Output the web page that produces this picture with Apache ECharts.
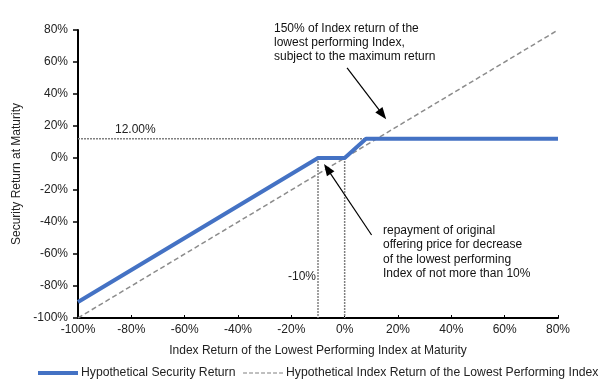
<!DOCTYPE html>
<html>
<head>
<meta charset="utf-8">
<script src="https://cdn.jsdelivr.net/npm/echarts@6/dist/echarts.min.js"></script>
<style>html,body{margin:0;padding:0;background:#fff}#c{width:614px;height:390px}</style>
</head>
<body>
<div id="c"></div>
<script>
// Data
var securityX = [-100, -10, 0, 8, 80];
var securityY = [-90, 0, 0, 12, 12];
var indexX = [-100, 80];
var indexY = [-100, 80];
var capLevel = 12;
var capX = 8;
var bufferX = [-10, 0];
var axisTicks = [-100, -80, -60, -40, -20, 0, 20, 40, 60, 80];

function pairs(xs, ys) { return xs.map(function (x, i) { return [x, ys[i]]; }); }

var font = '"Liberation Sans", Arial, sans-serif';
var chart = echarts.init(document.getElementById('c'));
var dotted = { color: '#808080', width: 1.5, type: [2, 1] };

chart.setOption({
  animation: false,
  textStyle: { fontFamily: font },
  grid: { left: 78, right: 56, top: 30, bottom: 72, containLabel: false },
  xAxis: {
    type: 'value', min: axisTicks[0], max: axisTicks[axisTicks.length - 1], interval: 20,
    name: 'Index Return of the Lowest Performing Index at Maturity',
    nameLocation: 'middle', nameGap: 27,
    nameTextStyle: { fontSize: 12, color: '#222', fontFamily: font },
    axisLine: { onZero: false, lineStyle: { color: '#000', width: 2 } },
    axisTick: { inside: true, length: 3, lineStyle: { color: '#000', width: 1 } },
    axisLabel: { margin: 6, fontSize: 12, color: '#222', fontFamily: font, formatter: '{value}%' },
    splitLine: { show: false }
  },
  yAxis: {
    type: 'value', min: axisTicks[0], max: axisTicks[axisTicks.length - 1], interval: 20,
    name: 'Security Return at Maturity',
    nameLocation: 'middle', nameGap: 50,
    nameTextStyle: { fontSize: 12, color: '#222', fontFamily: font },
    axisLine: { onZero: false, lineStyle: { color: '#000', width: 2 } },
    axisTick: { inside: false, length: 5, lineStyle: { color: '#000', width: 1.5 } },
    axisLabel: { margin: 10, fontSize: 12, color: '#222', fontFamily: font, formatter: '{value}%' },
    splitLine: { show: false }
  },
  legend: {
    bottom: 6, left: 31, itemWidth: 40, itemHeight: 10, itemGap: 7,
    itemStyle: { opacity: 0 },
    textStyle: { fontSize: 12.2, color: '#222', fontFamily: font, padding: [0, 0, 0, -2] },
    data: [
      { name: 'Hypothetical Security Return', lineStyle: { width: 4, color: '#4472C4' } },
      { name: 'Hypothetical Index Return of the Lowest Performing Index', lineStyle: { width: 1.2, color: '#808080', type: [4, 2] } }
    ]
  },
  series: [
    {
      name: 'cap', type: 'line', symbol: 'none', silent: true,
      data: [[axisTicks[0], capLevel], [capX, capLevel]],
      lineStyle: dotted, z: 1
    },
    {
      name: 'buf1', type: 'line', symbol: 'none', silent: true,
      data: [[bufferX[0], 0], [bufferX[0], axisTicks[0]]],
      lineStyle: dotted, z: 1
    },
    {
      name: 'buf2', type: 'line', symbol: 'none', silent: true,
      data: [[bufferX[1], 0], [bufferX[1], axisTicks[0]]],
      lineStyle: dotted, z: 1
    },
    {
      name: 'Hypothetical Index Return of the Lowest Performing Index',
      type: 'line', symbol: 'none',
      data: pairs(indexX, indexY),
      lineStyle: { color: '#8c8c8c', width: 1.5, type: [5, 3] },
      itemStyle: { color: '#8c8c8c' }, z: 2,
      markLine: {
        silent: true, symbol: ['none', 'triangle'], symbolSize: [9, 12],
        label: { show: false },
        lineStyle: { color: '#000', width: 1.2, type: 'solid' },
        data: [
          [{ coord: [0.9, 56.3] }, { coord: [14.2, 27.2] }],
          [{ coord: [10.1, -48.1] }, { coord: [-6.5, -6.8] }]
        ]
      }
    },
    {
      name: 'Hypothetical Security Return',
      type: 'line', symbol: 'none',
      data: pairs(securityX, securityY),
      lineStyle: { color: '#4472C4', width: 4 },
      itemStyle: { color: '#4472C4' }, z: 3
    }
  ],
  graphic: [
    { type: 'text', left: 115, top: 124, style: { text: '12.00%', font: '12px ' + font, fill: '#222' } },
    { type: 'text', left: 288, top: 271, style: { text: '-10%', font: '12px ' + font, fill: '#222' } },
    { type: 'text', left: 274, top: 22, style: { text: '150% of Index return of the\nlowest performing Index,\nsubject to the maximum return', font: '12px ' + font, fill: '#111', lineHeight: 14 } },
    { type: 'text', left: 383, top: 223, style: { text: 'repayment of original\noffering price for decrease\nof the lowest performing\nIndex of not more than 10%', font: '12px ' + font, fill: '#111', lineHeight: 14.5 } }
  ]
});
</script>
</body>
</html>
